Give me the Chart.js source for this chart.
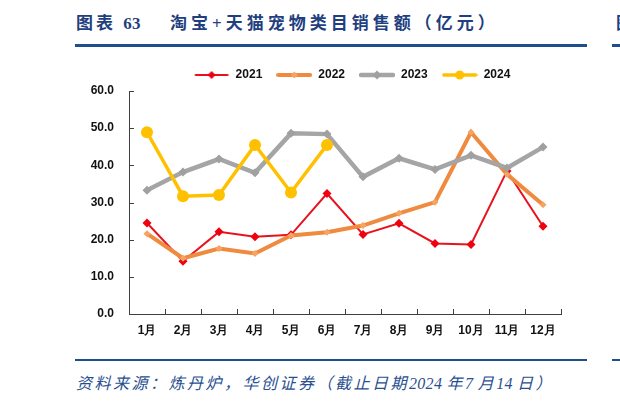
<!DOCTYPE html>
<html lang="zh">
<head>
  <meta charset="UTF-8" />
  <title>淘宝+天猫宠物类目销售额</title>
  <script src="https://cdn.jsdelivr.net/npm/chart.js"></script>
  <style>
    html, body { margin: 0; padding: 0; background: #fff; }
    body { width: 620px; height: 401px; position: relative; overflow: hidden; }
    .title { position: absolute; top: 9px; color: #1f3f7f; font-family: "Liberation Serif", "Noto Sans CJK SC", serif; font-weight: bold; font-size: 17px; letter-spacing: 4px; white-space: nowrap; }
    .rule { position: absolute; height: 3px; background: #1f4e8c; }
    .source { position: absolute; left: 76px; top: 370px; color: #2a4f8f; font-family: "Liberation Serif", "Noto Sans CJK SC", serif; font-style: italic; font-size: 16px; letter-spacing: 2.5px; white-space: nowrap; }
    .num { letter-spacing: 0.3px; }
    #chartWrap { position: absolute; left: 90px; top: 55px; }
  </style>
</head>
<body>
  <div class="title" style="left:76px; letter-spacing:3px">图表 <span class="num">63</span></div>
  <div class="title" style="left:170px">淘宝+天猫宠物类目销售额（亿元）</div>
  <div class="title" style="left:616px">图</div>
  <div class="rule" style="left:75px; width:512px; top:44px"></div>
  <div class="rule" style="left:612px; width:10px; top:44px"></div>

  <div id="chartWrap"><canvas id="chart" width="524" height="290"></canvas></div>

  <div class="rule" style="left:75px; width:512px; top:359px; height:2px"></div>
  <div class="rule" style="left:612px; width:10px; top:359px; height:2px"></div>
  <div class="source">资料来源：炼丹炉，华创证券（截止日期<span class="num">2024 </span>年<span class="num">7 </span>月<span class="num">14 </span>日）</div>

<script>
  const months = ['1月', '2月', '3月', '4月', '5月', '6月', '7月', '8月', '9月', '10月', '11月', '12月'];
  const sales2021 = [24.5, 14.2, 22.1, 20.8, 21.3, 32.4, 21.4, 24.4, 19.0, 18.7, 38.5, 23.6];
  const sales2022 = [21.6, 15.0, 17.6, 16.3, 21.1, 22.0, 23.8, 27.1, 30.1, 48.9, 37.6, 29.4];
  const sales2023 = [33.3, 38.2, 41.7, 38.0, 48.6, 48.4, 36.9, 41.9, 38.9, 42.7, 39.3, 44.9];
  const sales2024 = [48.9, 31.7, 32.0, 45.5, 32.7, 45.5, null, null, null, null, null, null];
  const yTicks = [0, 10, 20, 30, 40, 50, 60];

  // petit echantillon de légende : trait + marqueur
  function swatch(color, lw, marker, r, markerColor) {
    const c = document.createElement('canvas');
    c.width = 36; c.height = 14;
    const g = c.getContext('2d');
    g.strokeStyle = color; g.lineWidth = lw; g.lineCap = 'round';
    g.beginPath(); g.moveTo(2, 7); g.lineTo(34, 7); g.stroke();
    g.fillStyle = markerColor;
    g.beginPath();
    if (marker === 'circle') {
      g.arc(18, 7, r, 0, Math.PI * 2);
    } else {
      g.moveTo(18, 7 - r); g.lineTo(18 + r, 7); g.lineTo(18, 7 + r); g.lineTo(18 - r, 7); g.closePath();
    }
    g.fill();
    return c;
  }

  const axisColor = '#404040';

  // petites graduations vers l'intérieur
  const innerTicks = {
    id: 'innerTicks',
    afterDraw(chart) {
      const { ctx, scales: { x, y } } = chart;
      ctx.save();
      ctx.strokeStyle = axisColor;
      ctx.lineWidth = 1;
      ctx.beginPath();
      yTicks.forEach(v => {
        const py = Math.round(y.getPixelForValue(v)) + 0.5;
        ctx.moveTo(x.left, py); ctx.lineTo(x.left + 5, py);
      });
      for (let i = 0; i <= months.length; i++) {
        const px = Math.round(x.getPixelForValue(i - 0.5)) + 0.5;
        ctx.moveTo(px, y.bottom); ctx.lineTo(px, y.bottom - 5);
      }
      ctx.stroke();
      ctx.restore();
    }
  };

  new Chart(document.getElementById('chart'), {
    type: 'line',
    data: {
      labels: months,
      datasets: [
        {
          label: '2021', data: sales2021, order: 4,
          borderColor: '#e8121c', backgroundColor: '#e8121c', borderWidth: 2,
          pointStyle: 'rectRot', pointRadius: 4.5, pointBackgroundColor: '#f00010', pointBorderWidth: 0,
          legendSwatch: swatch('#e8121c', 2, 'diamond', 4, '#f00010')
        },
        {
          label: '2022', data: sales2022, order: 3,
          borderColor: '#ef8a3e', backgroundColor: '#f4a35e', borderWidth: 4,
          pointStyle: 'rectRot', pointRadius: 3.5, pointBackgroundColor: '#f5a561', pointBorderWidth: 0,
          legendSwatch: swatch('#ef8a3e', 4, 'diamond', 3.5, '#f5a561')
        },
        {
          label: '2023', data: sales2023, order: 2,
          borderColor: '#a5a5a5', backgroundColor: '#a5a5a5', borderWidth: 4.5,
          pointStyle: 'rectRot', pointRadius: 4.5, pointBackgroundColor: '#a0a0a0', pointBorderWidth: 0,
          legendSwatch: swatch('#a5a5a5', 4.5, 'diamond', 4.5, '#a0a0a0')
        },
        {
          label: '2024', data: sales2024, order: 1,
          borderColor: '#ffc000', backgroundColor: '#ffc000', borderWidth: 3.5,
          pointStyle: 'circle', pointRadius: 6, pointBackgroundColor: '#ffc000', pointBorderWidth: 0,
          legendSwatch: swatch('#ffc000', 3.5, 'circle', 4.5, '#ffc000')
        }
      ]
    },
    options: {
      responsive: false,
      devicePixelRatio: 1,
      animation: false,
      spanGaps: false,
      layout: { padding: { top: 0, bottom: 0, left: 0, right: 0 } },
      plugins: {
        title: { display: false },
        tooltip: { enabled: false },
        legend: {
          display: true,
          position: 'top',
          labels: {
            usePointStyle: true,
            pointStyleWidth: 36,
            padding: 14,
            color: '#111',
            font: { family: 'Liberation Sans, Arial, sans-serif', size: 12, weight: 'bold' },
            sort: (a, b) => a.datasetIndex - b.datasetIndex,
            generateLabels(chart) {
              return chart.data.datasets.map((ds, i) => ({
                text: ds.label,
                pointStyle: ds.legendSwatch,
                fillStyle: ds.borderColor,
                strokeStyle: ds.borderColor,
                lineWidth: 0,
                hidden: false,
                datasetIndex: i,
                fontColor: '#111'
              }));
            }
          }
        }
      },
      scales: {
        x: {
          offset: true,
          grid: { display: false, drawTicks: false },
          border: { display: true, color: axisColor, width: 1 },
          ticks: {
            color: '#111', padding: 9, maxRotation: 0, autoSkip: false,
            font: { family: 'Liberation Sans, Arial, sans-serif', size: 12, weight: 'bold' }
          },
          afterFit(s) { s.height = 31; }
        },
        y: {
          min: 0, max: 60,
          afterBuildTicks(s) { s.ticks = yTicks.map(v => ({ value: v })); },
          grid: { display: false, drawTicks: false },
          border: { display: true, color: axisColor, width: 1 },
          ticks: {
            color: '#111', padding: 15,
            font: { family: 'Liberation Sans, Arial, sans-serif', size: 12, weight: 'bold' },
            callback: v => Number(v).toFixed(1)
          },
          afterFit(s) { s.width = 39; }
        },
        pad: {
          position: 'right',
          display: true,
          grid: { display: false, drawTicks: false },
          border: { display: false },
          ticks: { display: false },
          afterFit(s) { s.width = 53; }
        }
      }
    },
    plugins: [innerTicks]
  });
</script>
</body>
</html>
